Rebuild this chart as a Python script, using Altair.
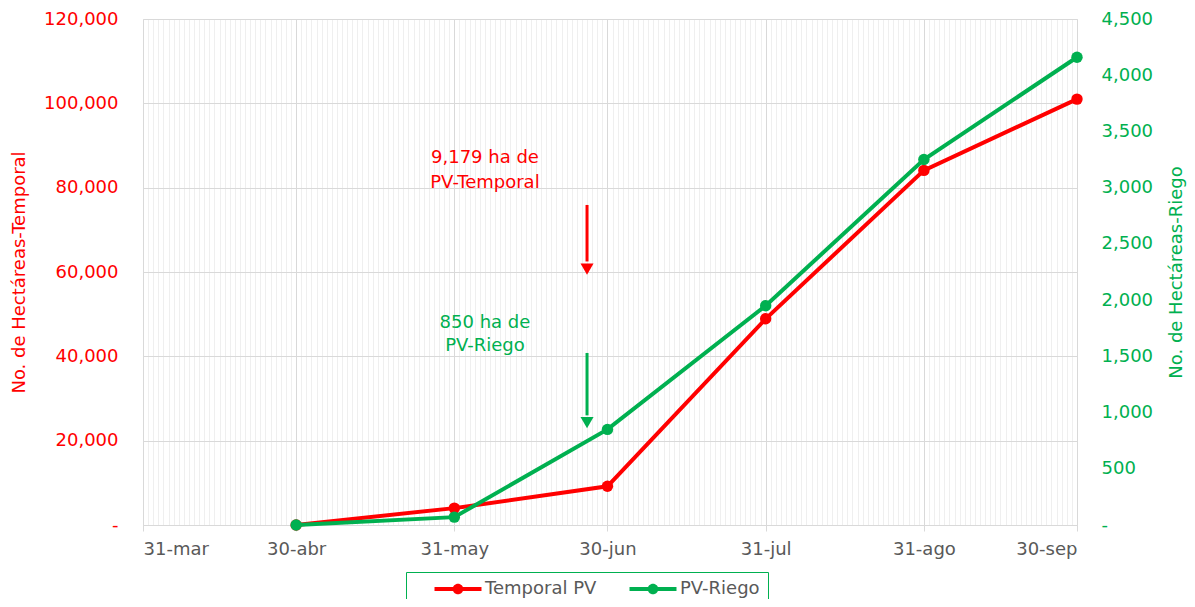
import altair as alt
import pandas as pd

# ---- data ----
dates = ["2019-04-30", "2019-05-31", "2019-06-30", "2019-07-31", "2019-08-31", "2019-09-30"]
temporal = [0, 4000, 9179, 48900, 84100, 101000]
riego = [0, 70, 850, 1950, 3250, 4160]

tick_dates = [(2019, 3, 31), (2019, 4, 30), (2019, 5, 31), (2019, 6, 30),
              (2019, 7, 31), (2019, 8, 31), (2019, 9, 30)]
month_names = ["ene", "feb", "mar", "abr", "may", "jun", "jul", "ago", "sep", "oct", "nov", "dic"]
left_ticks = [0, 20000, 40000, 60000, 80000, 100000, 120000]
right_ticks = [0, 500, 1000, 1500, 2000, 2500, 3000, 3500, 4000, 4500]
series_names = ["Temporal PV", "PV-Riego"]

ann_text = ["9,179 ha de", "PV-Temporal", "850 ha de", "PV-Riego"]
ann_date = ["2019-06-06", "2019-06-06", "2019-06-06", "2019-06-06"]
ann_y = [87000, 81100, 47900, 42450]
ann_color = ["#FF0000", "#FF0000", "#00B050", "#00B050"]

arrow_date = ["2019-06-26", "2019-06-26"]
arrow_top = [75900, 40800]
arrow_end = [62500, 26000]
arrow_head = [60700, 24300]
arrow_color = ["#FF0000", "#00B050"]

RED = "#FF0000"
GREEN = "#00B050"
FONT = "DejaVu Sans"

df = pd.DataFrame({"date": dates, "temporal": temporal, "riego": riego})
ann_df = pd.DataFrame({"date": ann_date, "y": ann_y, "t": ann_text, "c": ann_color})
arr_df = pd.DataFrame({"date": arrow_date, "top": arrow_top, "end": arrow_end,
                       "head": arrow_head, "c": arrow_color})
grid_df = pd.DataFrame({"date": ["2019-03-31"]})

def dt(t):
    return alt.DateTime(year=t[0], month=t[1], date=t[2], utc=True)

x_domain = [dt(tick_dates[0]), dt(tick_dates[-1])]
xscale = alt.Scale(type="utc", domain=x_domain)
names_js = "[" + ",".join("'%s'" % m for m in month_names) + "]"
xaxis = alt.Axis(
    values=[dt(t) for t in tick_dates],
    labelExpr="utcdate(datum.value) + '-' + " + names_js + "[utcmonth(datum.value)]",
    title=None, grid=True, gridColor="#D9D9D9", domainColor="#D9D9D9",
    tickColor="#D9D9D9", tickSize=6, labelPadding=9, labelFontSize=18,
    labelColor="#595959", labelFont=FONT,
)
xenc = alt.X("date:T", scale=xscale, axis=xaxis)

yl_scale = alt.Scale(domain=[0, 120000])
yl_axis = alt.Axis(
    values=left_ticks, title="No. de Hectáreas-Temporal", titleColor=RED,
    titleFontSize=18, titleFont=FONT, titleFontWeight="normal", titlePadding=15,
    labelExpr="datum.value == 0 ? '-\u00a0\u00a0' : format(datum.value, ',')",
    labelColor=RED, labelFontSize=18, labelFont=FONT, labelPadding=25,
    ticks=False, domain=False, grid=True, gridColor="#D9D9D9",
)
yr_scale = alt.Scale(domain=[0, 4500])
yr_axis = alt.Axis(
    orient="right", values=right_ticks, title="No. de Hectáreas-Riego",
    titleColor=GREEN, titleFontSize=18, titleFont=FONT, titleFontWeight="normal",
    titleAngle=270, titlePadding=33,
    labelExpr="datum.value == 0 ? '\u00a0-' : format(datum.value, ',')",
    labelColor=GREEN, labelFontSize=18, labelFont=FONT, labelPadding=24,
    ticks=False, domain=False, grid=False,
)

legend_path = ("M-4,-0.34 H4 V0.34 H-4 Z "
               "M0.9,0 A0.9,0.9 0 1,1 -0.9,0 A0.9,0.9 0 1,1 0.9,0 Z")
fill_scale = alt.Scale(domain=series_names, range=[RED, GREEN])
legend = alt.Legend(
    title=None, orient="none", legendX=263, legendY=553, direction="horizontal",
    symbolType=legend_path, symbolSize=138, symbolStrokeWidth=0, symbolOpacity=1,
    symbolOffset=35, labelOffset=18,
    labelExpr="datum.value == 'PV-Riego' ? datum.value + '\u2002\u2002' : datum.value",
    labelFont=FONT, labelFontSize=18, labelColor="#595959",
    strokeColor=GREEN, fillColor="white", padding=8, columnPadding=12,
)

base = alt.Chart(df)

t_line = base.mark_line(color=RED, strokeWidth=4).encode(
    x=xenc, y=alt.Y("temporal:Q", scale=yl_scale, axis=yl_axis))
t_pts = base.mark_circle(size=130, opacity=1).transform_calculate(
    serie="'Temporal PV'").encode(
    x=xenc, y=alt.Y("temporal:Q", scale=yl_scale, axis=yl_axis),
    fill=alt.Fill("serie:N", scale=fill_scale, legend=legend))

ann_layer = alt.Chart(ann_df).mark_text(fontSize=18, font=FONT, align="center",
                                        baseline="middle").encode(
    x=xenc, y=alt.Y("y:Q", scale=yl_scale, axis=yl_axis),
    text="t:N", color=alt.Color("c:N", scale=None))

arrow_rules = alt.Chart(arr_df).mark_rule(strokeWidth=3).encode(
    x=xenc, y=alt.Y("top:Q", scale=yl_scale, axis=yl_axis), y2="end:Q",
    color=alt.Color("c:N", scale=None))
arrow_heads = alt.Chart(arr_df).mark_point(shape="triangle-down", filled=True,
                                           size=170, opacity=1).encode(
    x=xenc, y=alt.Y("head:Q", scale=yl_scale, axis=yl_axis),
    color=alt.Color("c:N", scale=None))

r_line = base.mark_line(color=GREEN, strokeWidth=4).encode(
    x=xenc, y=alt.Y("riego:Q", scale=yr_scale, axis=yr_axis))
r_pts = base.mark_circle(size=130, opacity=1).transform_calculate(
    serie="'PV-Riego'").encode(
    x=xenc, y=alt.Y("riego:Q", scale=yr_scale, axis=yr_axis),
    fill=alt.Fill("serie:N", scale=fill_scale, legend=legend))

left_group = alt.layer(t_line, t_pts, ann_layer, arrow_rules, arrow_heads)
right_group = alt.layer(r_line, r_pts)
main = alt.layer(left_group, right_group).resolve_scale(y="independent")

grid = alt.Chart(grid_df).mark_rule(opacity=0).encode(
    x=alt.X("date:T", scale=alt.Scale(type="utc", domain=x_domain),
            axis=alt.Axis(orient="top", tickCount={"interval": "day", "step": 1},
                          grid=True, gridColor="#EFEFEF", labels=False,
                          ticks=False, domain=False, title=None)))

chart = alt.layer(grid, main).resolve_scale(x="independent").properties(
    width=934, height=506,
    padding={"left": 135, "top": 11, "right": 110, "bottom": 74},
    autosize=alt.AutoSizeParams(type="none"),
).configure_view(stroke=None).configure(font=FONT)

chart.save("out.html", embed_options={"renderer": "svg", "actions": False})
